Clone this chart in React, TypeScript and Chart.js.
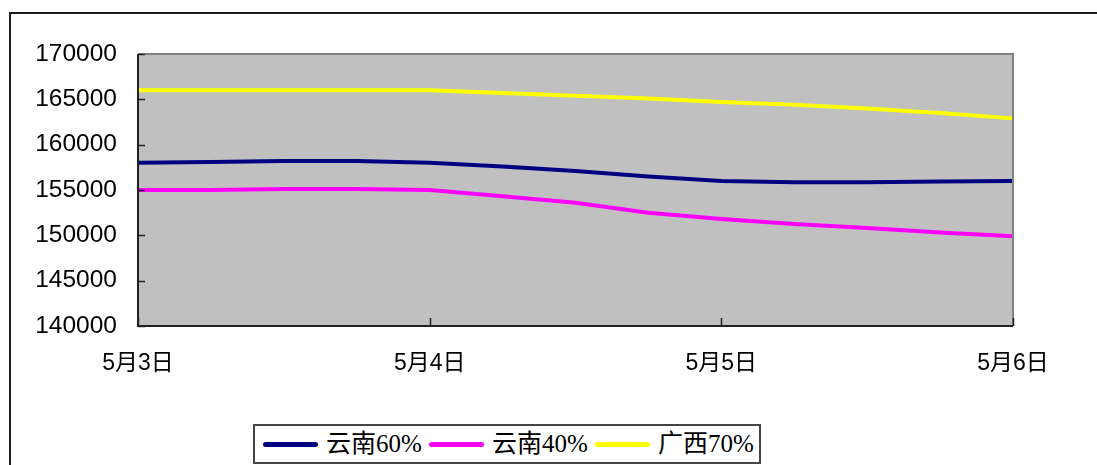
import React, { useEffect, useRef } from "react";
import { Chart, registerables } from "chart.js";

Chart.register(...registerables);

const categories = [
  "5月3日", "", "", "",
  "5月4日", "", "", "",
  "5月5日", "", "", "",
  "5月6日",
];
const seriesNames = ["云南60%", "云南40%", "广西70%"];
const yunnan60 = [158000, 158100, 158200, 158200, 158000, 157600, 157100, 156500, 156000, 155850, 155850, 155950, 156000];
const yunnan40 = [155000, 155000, 155100, 155100, 155000, 154300, 153600, 152500, 151800, 151250, 150800, 150300, 149900];
const guangxi70 = [166000, 166000, 166000, 166000, 166000, 165700, 165400, 165100, 164700, 164400, 164000, 163500, 162900];
const seriesColors = ["#000080", "#FF00FF", "#FFFF00"];
const yMin = 140000;
const yMax = 170000;
const yStep = 5000;

const plotPlugin = {
  id: "plotDecor",
  beforeDatasetsDraw(chart: any) {
    const { ctx, chartArea } = chart;
    ctx.save();
    ctx.fillStyle = "#C0C0C0";
    ctx.fillRect(chartArea.left, chartArea.top, chartArea.right - chartArea.left, chartArea.bottom - chartArea.top);
    ctx.restore();
  },
  afterDatasetsDraw(chart: any) {
    const { ctx, chartArea, scales } = chart;
    const { left, right, top, bottom } = chartArea;
    ctx.save();
    ctx.strokeStyle = "#808080";
    ctx.lineWidth = 2;
    ctx.beginPath();
    ctx.moveTo(left, top);
    ctx.lineTo(right, top);
    ctx.lineTo(right, bottom);
    ctx.stroke();
    ctx.strokeStyle = "#222222";
    ctx.lineWidth = 2;
    ctx.beginPath();
    ctx.moveTo(left, top);
    ctx.lineTo(left, bottom);
    ctx.lineTo(right, bottom);
    ctx.stroke();
    ctx.lineWidth = 1.5;
    const ys = scales.y;
    ys.ticks.forEach((t: any) => {
      const y = Math.round(ys.getPixelForValue(t.value)) + 0.5;
      ctx.beginPath();
      ctx.moveTo(left, y);
      ctx.lineTo(left + 7, y);
      ctx.stroke();
    });
    const xs = scales.x;
    categories.forEach((c, i) => {
      if (!c) return;
      const x = Math.round(xs.getPixelForValue(i)) + 0.5;
      ctx.beginPath();
      ctx.moveTo(x, bottom);
      ctx.lineTo(x, bottom - 8);
      ctx.stroke();
    });
    ctx.restore();
  },
};

export default function App() {
  const canvasRef = useRef<HTMLCanvasElement | null>(null);

  useEffect(() => {
    if (!canvasRef.current) return;
    const chart = new Chart(canvasRef.current, {
      type: "line",
      data: {
        labels: categories,
        datasets: [yunnan60, yunnan40, guangxi70].map((d, i) => ({
          label: seriesNames[i],
          data: d,
          borderColor: seriesColors[i],
          backgroundColor: seriesColors[i],
          borderWidth: 4,
          pointRadius: 0,
          tension: 0,
          fill: false,
        })),
      },
      options: {
        animation: false,
        responsive: false,
        maintainAspectRatio: false,
        layout: { padding: { left: 0, top: 54, right: 84, bottom: 89 } },
        plugins: {
          legend: { display: false },
          tooltip: { enabled: false },
        },
        scales: {
          x: {
            type: "category",
            offset: false,
            grid: { display: false, drawTicks: false },
            border: { display: false },
            ticks: {
              autoSkip: false,
              maxRotation: 0,
              padding: 24,
              color: "#000",
              font: { family: '"Liberation Sans", "Noto Sans CJK SC", sans-serif', size: 23 },
            },
            afterFit: (s: any) => {
              s.height = 50;
            },
          },
          y: {
            min: yMin,
            max: yMax,
            grid: { display: false, drawTicks: false },
            border: { display: false },
            ticks: {
              stepSize: yStep,
              padding: 21,
              color: "#000",
              font: { family: '"Liberation Sans", Arial, sans-serif', size: 24.5 },
              callback: (v: any) => String(v),
            },
            afterFit: (s: any) => {
              s.width = 138;
            },
          },
        },
      },
      plugins: [plotPlugin],
    });
    return () => chart.destroy();
  }, []);

  const legendFont = '"Liberation Serif", "Noto Sans CJK SC", serif';

  return (
    <div style={{ position: "absolute", left: 0, top: 0, width: 1097, height: 465, overflow: "hidden", background: "#fff" }}>
      <div
        style={{
          position: "absolute",
          left: 9,
          top: 12,
          width: 1200,
          height: 600,
          borderLeft: "2px solid #1a1a1a",
          borderTop: "2px solid #1a1a1a",
        }}
      />
      <canvas ref={canvasRef} width={1097} height={465} style={{ position: "absolute", left: 0, top: 0, width: 1097, height: 465 }} />
      <div
        style={{
          position: "absolute",
          left: 253,
          top: 424,
          width: 504,
          height: 36,
          border: "2px solid #444",
          background: "#fff",
        }}
      >
        {seriesNames.map((name, i) => (
          <div key={name} style={{ position: "absolute", left: 8 + i * 166, top: 0, height: 36, display: "flex", alignItems: "center" }}>
            <div style={{ width: 55, height: 5, borderRadius: 3, background: seriesColors[i] }} />
            <span style={{ marginLeft: 8, fontFamily: legendFont, fontSize: 25, color: "#000", lineHeight: "36px", whiteSpace: "nowrap" }}>
              {name}
            </span>
          </div>
        ))}
      </div>
    </div>
  );
}
